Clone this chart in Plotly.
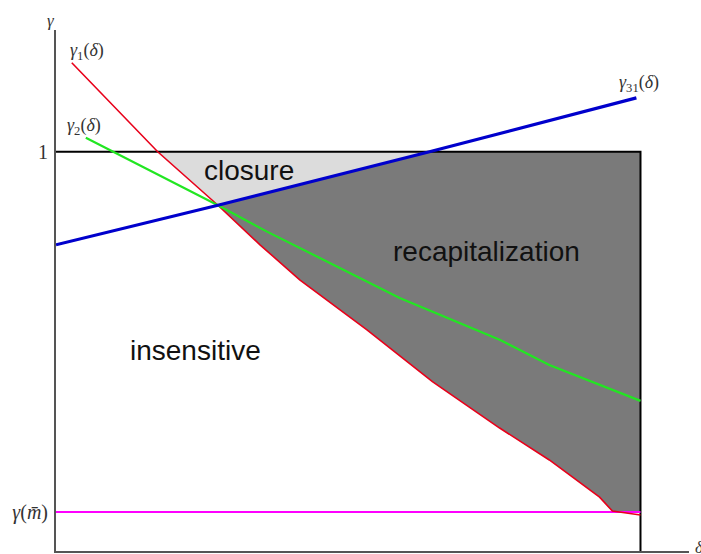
import numpy as np
import plotly.graph_objects as go

# ---- data (delta, gamma) ----
red_delta = [0.027, 0.174, 0.277, 0.349, 0.417, 0.532, 0.644, 0.759, 0.844, 0.930, 0.952, 1.0]
red_gamma = [1.223, 1.000, 0.866, 0.767, 0.679, 0.554, 0.424, 0.308, 0.228, 0.135, 0.100, 0.090]

green_delta = [0.051, 0.277, 0.361, 0.588, 0.759, 0.844, 1.0]
green_gamma = [1.035, 0.866, 0.800, 0.634, 0.529, 0.466, 0.376]

blue_delta = [0.0, 0.277, 0.639, 0.993]
blue_gamma = [0.767, 0.866, 1.000, 1.135]

gamma_m = 0.098
box_delta = 1.0
box_gamma = 1.0

ytick_vals = [gamma_m, box_gamma]
ytick_text = ["<i>γ</i>(<i>m̄</i>)", "1"]

# ---- regions built from the curves ----
i_int = 2      # intersection index in red array
i_top = 1      # red crossing gamma = 1
b_int = 1      # intersection index in blue array
b_top = 2      # blue crossing gamma = 1
i_bot = 10     # red meets gamma_m

closure_x = [red_delta[i_top], red_delta[i_int], blue_delta[b_top], red_delta[i_top]]
closure_y = [red_gamma[i_top], red_gamma[i_int], blue_gamma[b_top], red_gamma[i_top]]

recap_x = (blue_delta[b_int:b_top + 1] + [box_delta, box_delta]
           + [red_delta[k] for k in range(i_bot, i_int - 1, -1)])
recap_y = (blue_gamma[b_int:b_top + 1] + [box_gamma, gamma_m]
           + [gamma_m] + [red_gamma[k] for k in range(i_bot - 1, i_int - 1, -1)])

fig = go.Figure()
fig.add_trace(go.Scatter(x=closure_x, y=closure_y, fill="toself", fillcolor="#dcdcdc",
                         line=dict(width=0), mode="lines", hoverinfo="skip"))
fig.add_trace(go.Scatter(x=recap_x, y=recap_y, fill="toself", fillcolor="#7a7a7a",
                         line=dict(width=0), mode="lines", hoverinfo="skip"))
# box
fig.add_trace(go.Scatter(x=[0, box_delta, box_delta], y=[box_gamma, box_gamma, 0],
                         mode="lines", line=dict(color="black", width=2)))
# magenta
fig.add_trace(go.Scatter(x=[0, box_delta], y=[gamma_m, gamma_m], mode="lines",
                         line=dict(color="#ff00ff", width=2)))
fig.add_trace(go.Scatter(x=red_delta, y=red_gamma, mode="lines",
                         line=dict(color="#e8001a", width=1.6)))
fig.add_trace(go.Scatter(x=green_delta, y=green_gamma, mode="lines",
                         line=dict(color="#22e622", width=2.2)))
fig.add_trace(go.Scatter(x=blue_delta, y=blue_gamma, mode="lines",
                         line=dict(color="#0000cc", width=3.2)))

serif = "Liberation Serif"
sans = "Liberation Sans"
ann = [
    dict(x=0.330, y=0.952, text="closure", font=dict(family=sans, size=28, color="#111")),
    dict(x=0.737, y=0.749, text="recapitalization", font=dict(family=sans, size=28, color="#111")),
    dict(x=0.238, y=0.501, text="insensitive", font=dict(family=sans, size=28, color="#111")),
    dict(x=0.053, y=1.250, text="<i>γ</i><sub>1</sub>(<i>δ</i>)", font=dict(family=serif, size=18, color="#333")),
    dict(x=0.048, y=1.063, text="<i>γ</i><sub>2</sub>(<i>δ</i>)", font=dict(family=serif, size=18, color="#333")),
    dict(x=0.998, y=1.17, text="<i>γ</i><sub>31</sub>(<i>δ</i>)", font=dict(family=serif, size=18, color="#333")),
]
for a in ann:
    a.update(xref="x", yref="y", showarrow=False)
fig.update_layout(annotations=ann + [
    dict(xref="paper", yref="paper", x=-0.008, y=1.019, text="<i>γ</i>", showarrow=False,
         xanchor="center", yanchor="middle", font=dict(family=serif, size=17, color="#333")),
    dict(xref="paper", yref="paper", x=1.016, y=0.006, text="<i>δ</i>", showarrow=False,
         xanchor="center", yanchor="middle", font=dict(family=serif, size=17, color="#333")),
])

fig.update_layout(
    width=701, height=554, showlegend=False,
    plot_bgcolor="white", paper_bgcolor="white",
    margin=dict(l=56, r=12, t=30, b=3, autoexpand=False),
    xaxis=dict(range=[0, 1.083], showline=True, linecolor="#555", linewidth=2,
               showgrid=False, zeroline=False, showticklabels=False, ticks=""),
    yaxis=dict(range=[0, 1.305], showline=True, linecolor="#555", linewidth=2,
               showgrid=False, zeroline=False, tickvals=ytick_vals, ticktext=ytick_text,
               ticks="", ticklabelstandoff=2, automargin=False,
               tickfont=dict(family=serif, size=20, color="#333")),
)
fig.write_html("out.html", post_script="document.body.style.margin='0';",
               config={"displayModeBar": False})
